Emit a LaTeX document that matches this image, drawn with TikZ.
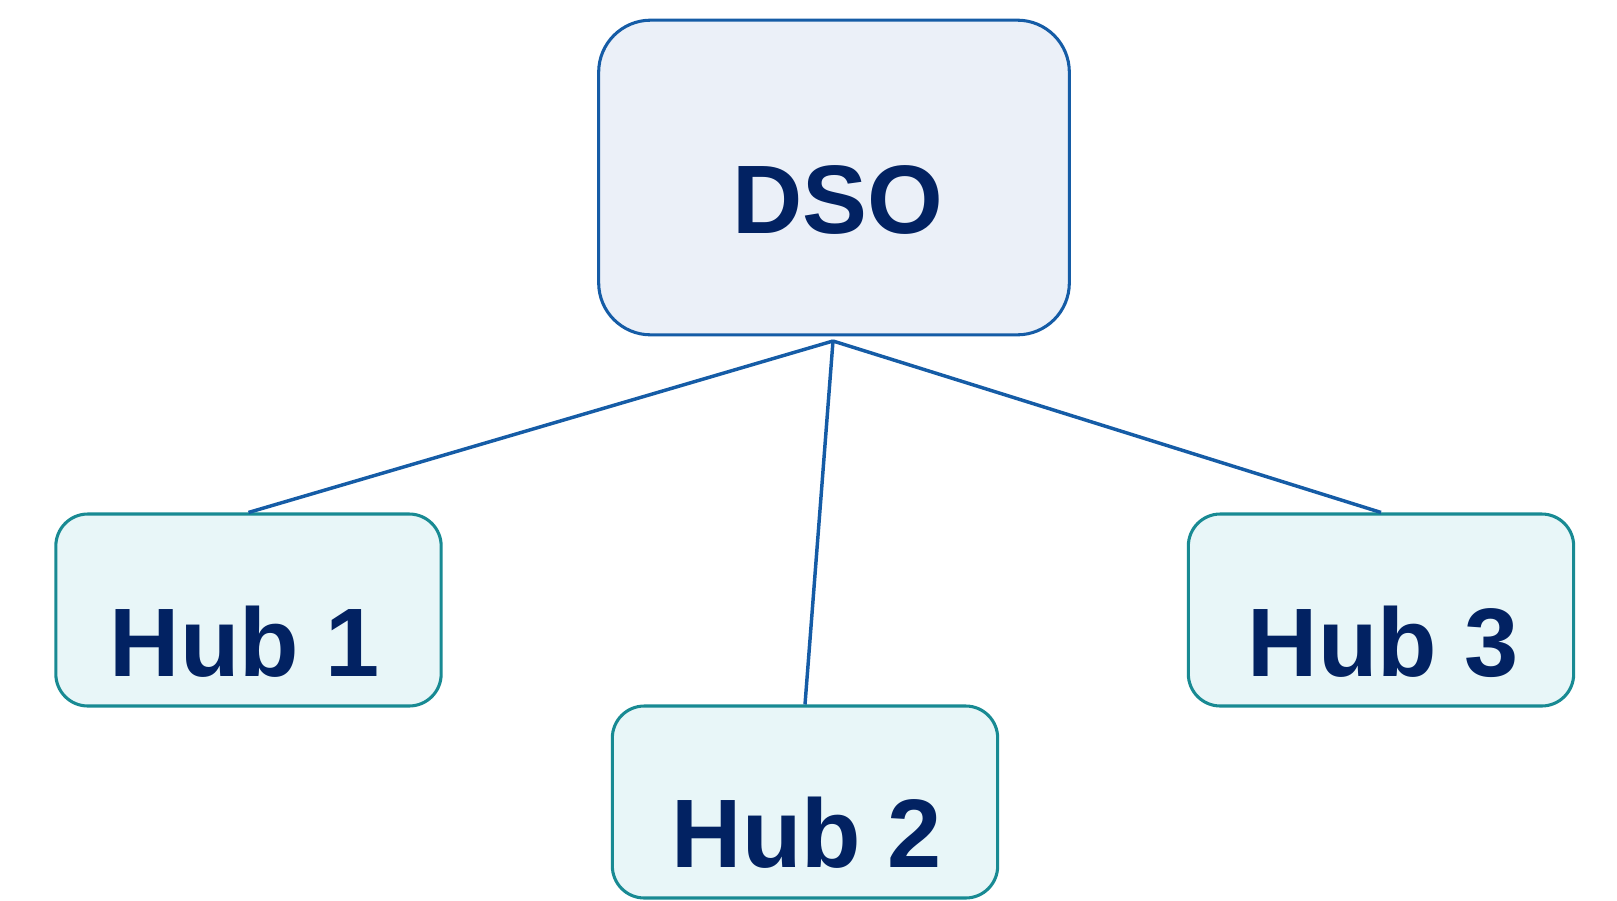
\documentclass[tikz,border=0pt]{standalone}
\usepackage{fontspec}
\setmainfont{Liberation Sans}
\definecolor{dsoblue}{RGB}{21,92,166}
\definecolor{dsofill}{RGB}{235,240,248}
\definecolor{hubteal}{RGB}{24,138,147}
\definecolor{hubfill}{RGB}{232,246,248}
\definecolor{navytext}{RGB}{2,34,98}
\tikzset{
  dsobox/.style={draw=dsoblue, fill=dsofill, line width=2.3pt, rounded corners=39pt,
    minimum width=353pt, minimum height=236pt, inner sep=0pt},
  hubbox/.style={draw=hubteal, fill=hubfill, line width=2.3pt, rounded corners=24pt,
    minimum width=289pt, minimum height=144pt, inner sep=0pt},
  boxlabel/.style={anchor=base, inner sep=0pt, text=navytext,
    font=\fontsize{73}{80}\selectfont\bfseries},
  feeder/.style={draw=dsoblue, line width=2.6pt},
}

\begin{document}
\begin{tikzpicture}[x=0.75pt,y=0.75pt,yscale=-1,xscale=1]
    \useasboundingbox (0,0) rectangle (1617,900);

    %Shape: Rounded Rect [id:dso]
    \node[dsobox] (dso) at (834,177.5) {};
    %Shape: Rounded Rect [id:hub1]
    \node[hubbox] (hub1) at (248.5,610) {};
    %Shape: Rounded Rect [id:hub2]
    \node[hubbox] (hub2) at (805,802) {};
    %Shape: Rounded Rect [id:hub3]
    \node[hubbox] (hub3) at (1381,610) {};

    %Straight Lines from the common point under DSO
    \coordinate (split) at (833,341);
    \draw[feeder] (split) -- (hub1.north);
    \draw[feeder] (split) -- (hub2.north);
    \draw[feeder] (split) -- (hub3.north);

    % Text Node
    \node[boxlabel] (dso label) at (838,233) {DSO};
    % Text Node
    \node[boxlabel] (hub1 label) at (245,676) {Hub 1};
    % Text Node
    \node[boxlabel] (hub2 label) at (807,867) {Hub 2};
    % Text Node
    \node[boxlabel] (hub3 label) at (1383,676) {Hub 3};
\end{tikzpicture}
\end{document}
